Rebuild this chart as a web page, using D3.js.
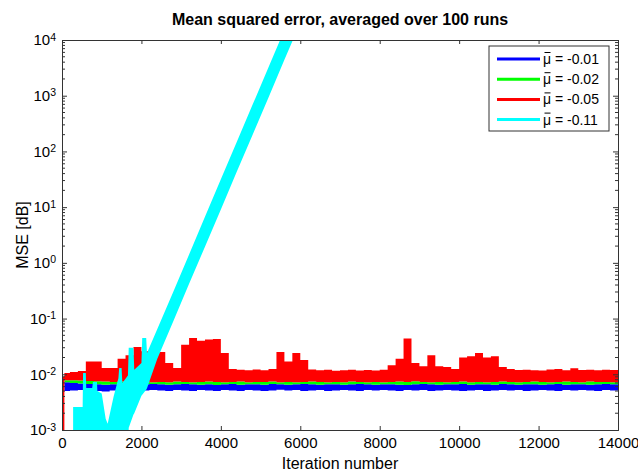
<!DOCTYPE html>
<html>
<head>
<meta charset="utf-8">
<script src="https://cdn.jsdelivr.net/npm/d3@7"></script>
<style>
  body { margin: 0; background: #fff; }
  text { font-family: "Liberation Sans", Arial, sans-serif; }
</style>
</head>
<body>
<script>
// iteration grid of the noisy bands (first bin is the start transient)
const iterations = [0, 60].concat(d3.range(200, 14001, 200));

// upper edge of the red band (mu = -0.05)
const redHi = [
  0.009, 0.0105,
  // 200 - 2000
  0.011, 0.0115, 0.017, 0.017, 0.013, 0.013, 0.019, 0.022, 0.031, 0.026,
  // 2200 - 4000
  0.022, 0.025, 0.016, 0.013, 0.034, 0.045, 0.04, 0.042, 0.043, 0.024,
  // 4200 - 6000
  0.0125, 0.012, 0.0118, 0.0122, 0.0118, 0.0125, 0.025, 0.017, 0.024, 0.018,
  // 6200 - 8000
  0.0122, 0.0118, 0.012, 0.0116, 0.0118, 0.0121, 0.0117, 0.0119, 0.0117, 0.012,
  // 8200 - 10000
  0.0145, 0.019, 0.044, 0.016, 0.014, 0.022, 0.014, 0.0135, 0.0125, 0.02,
  // 10200 - 12000
  0.021, 0.024, 0.02, 0.021, 0.0135, 0.0124, 0.0119, 0.0121, 0.0118, 0.0117,
  // 12200 - 14000
  0.0122, 0.0125, 0.0118, 0.0128, 0.0119, 0.0121, 0.0118, 0.012, 0.0119, 0.0119
];
// lower edge of the red band
const redLo = [
  0.0009, 0.0078,
  0.0078, 0.0077, 0.0076, 0.0075, 0.0074, 0.0073, 0.0074, 0.0072, 0.0073, 0.0074,
  0.0072, 0.0073, 0.0072, 0.0074, 0.0073, 0.0072, 0.0073, 0.0074, 0.0073, 0.0072,
  0.0073, 0.0074, 0.0072, 0.0073, 0.0073, 0.0074, 0.0072, 0.0073, 0.0072, 0.0073,
  0.0074, 0.0073, 0.0072, 0.0073, 0.0072, 0.0074, 0.0073, 0.0072, 0.0073, 0.0072,
  0.0073, 0.0074, 0.0073, 0.0075, 0.0073, 0.0072, 0.0073, 0.0072, 0.0073, 0.0074,
  0.0072, 0.0073, 0.0072, 0.0073, 0.0074, 0.0073, 0.0072, 0.0073, 0.0074, 0.0073,
  0.0072, 0.0073, 0.0074, 0.0073, 0.0072, 0.0074, 0.0073, 0.0073, 0.0072, 0.0073
];
// lower edge of the green band (mu = -0.02)
const greenLo = [
  0.0009, 0.0072,
  0.0070, 0.0068, 0.0067, 0.0066, 0.0065, 0.0066, 0.0067, 0.0066, 0.0065, 0.0066,
  0.0067, 0.0066, 0.0065, 0.0066, 0.0067, 0.0066, 0.0065, 0.0066, 0.0064, 0.0066,
  0.0067, 0.0065, 0.0066, 0.0066, 0.0065, 0.0067, 0.0066, 0.0065, 0.0066, 0.0067,
  0.0066, 0.0065, 0.0066, 0.0066, 0.0065, 0.0066, 0.0067, 0.0066, 0.0065, 0.0066,
  0.0066, 0.0065, 0.0064, 0.0066, 0.0067, 0.0066, 0.0065, 0.0066, 0.0066, 0.0067,
  0.0065, 0.0066, 0.0066, 0.0065, 0.0067, 0.0066, 0.0065, 0.0066, 0.0066, 0.0065,
  0.0066, 0.0067, 0.0065, 0.0066, 0.0066, 0.0065, 0.0066, 0.0067, 0.0066, 0.0066
];
// lower edge of the blue band (mu = -0.01)
const blueLo = [
  0.0009, 0.005,
  0.0051, 0.0052, 0.0051, 0.0050, 0.0049, 0.0051, 0.0052, 0.0050, 0.0052, 0.0051,
  0.0052, 0.0051, 0.0050, 0.0052, 0.0051, 0.0050, 0.0052, 0.0051, 0.0050, 0.0052,
  0.0051, 0.0050, 0.0052, 0.0051, 0.0050, 0.0051, 0.0053, 0.0051, 0.0052, 0.0050,
  0.0051, 0.0052, 0.0050, 0.0051, 0.0052, 0.0051, 0.0050, 0.0052, 0.0051, 0.0052,
  0.0051, 0.0050, 0.0052, 0.0051, 0.0052, 0.0050, 0.0051, 0.0052, 0.0051, 0.0050,
  0.0051, 0.0052, 0.0050, 0.0051, 0.0052, 0.0051, 0.0052, 0.0050, 0.0051, 0.0052,
  0.0051, 0.0050, 0.0052, 0.0051, 0.0052, 0.0051, 0.0050, 0.0052, 0.0051, 0.0052
];

// cyan band (mu = -0.11): diverges
const cyanIter = [280, 520, 530, 600, 610, 760, 780, 880, 890, 1000, 1100, 1150,
  1300, 1420, 1440, 1500, 1520, 1660, 1680, 1800, 1820, 2000, 2020, 2120, 2140,
  2400, 2800, 3200, 3600, 4000, 4400, 4800, 5200, 5600, 6000];
const cyanHi = [0.0026, 0.0026, 0.0105, 0.0105, 0.0057, 0.0057, 0.0073, 0.0073, 0.005, 0.0045, 0.0016, 0.0013,
  0.004, 0.0085, 0.013, 0.013, 0.007, 0.0095, 0.03, 0.03, 0.012, 0.016, 0.045, 0.045, 0.024,
  0.065, 0.3, 1.41, 6.7, 31.6, 148, 692, 3240, 15200, 72000];
const cyanLo = [0.0003, 0.0003, 0.0003, 0.0003, 0.0003, 0.0003, 0.0003, 0.0003, 0.0003, 0.0003, 0.0003, 0.0003,
  0.0003, 0.0003, 0.0003, 0.0003, 0.0003, 0.0003, 0.0011, 0.0019, 0.002, 0.0041, 0.0043, 0.0053, 0.0056,
  0.019, 0.089, 0.42, 1.95, 9.1, 43, 200, 930, 4400, 20400];

const legendLabels = ["-0.01", "-0.02", "-0.05", "-0.11"];
const colors = ["#0000ff", "#00ff00", "#ff0000", "#00ffff"];
const xTicks = [0, 2000, 4000, 6000, 8000, 10000, 12000, 14000];
const yDecades = [1e-3, 1e-2, 1e-1, 1e0, 1e1, 1e2, 1e3, 1e4];

const width = 638, height = 474;
const plotL = 62, plotR = 618, plotT = 40, plotB = 430;
const axisColor = "#333";

const svg = d3.select("body").append("svg")
    .attr("width", width)
    .attr("height", height);

const x = d3.scaleLinear().domain([0, 14000]).range([plotL, plotR]);
const y = d3.scaleLog().domain([1e-3, 1e4]).range([plotB, plotT]);

svg.append("clipPath").attr("id", "plot")
  .append("rect")
    .attr("x", plotL).attr("y", plotT)
    .attr("width", plotR - plotL).attr("height", plotB - plotT);

const plot = svg.append("g").attr("clip-path", "url(#plot)");

function band(xs, lo, hi, curve) {
    return d3.area()
        .x(i => x(xs[i]))
        .y0(i => y(lo[i]))
        .y1(i => y(hi[i]))
        .curve(curve)(d3.range(xs.length));
}

// blue, green, red draw on top of each other, cyan last
plot.append("path").attr("d", band(iterations, blueLo, greenLo, d3.curveStepAfter)).attr("fill", colors[0]);
plot.append("path").attr("d", band(iterations, greenLo, redLo, d3.curveStepAfter)).attr("fill", colors[1]);
plot.append("path").attr("d", band(iterations, redLo, redHi, d3.curveStepAfter)).attr("fill", colors[2]);
plot.append("path").attr("d", band(cyanIter, cyanLo, cyanHi, d3.curveLinear)).attr("fill", colors[3]);

// axes, ticks pointing inward
const gx = svg.append("g").attr("transform", `translate(0,${plotB})`)
    .call(d3.axisBottom(x).tickValues(xTicks).tickSize(-4).tickPadding(7).tickFormat(d3.format("d")));
const gxt = svg.append("g").attr("transform", `translate(0,${plotT})`)
    .call(d3.axisTop(x).tickValues(xTicks).tickSize(-4).tickFormat(""));
const gy = svg.append("g").attr("transform", `translate(${plotL},0)`)
    .call(d3.axisLeft(y).tickValues(yDecades).tickSize(-5).tickPadding(6).tickFormat(""));
const gyr = svg.append("g").attr("transform", `translate(${plotR},0)`)
    .call(d3.axisRight(y).tickValues(yDecades).tickSize(-5).tickFormat(""));

[gx, gxt, gy, gyr].forEach(g => {
    g.select(".domain").attr("stroke", axisColor);
    g.selectAll(".tick line").attr("stroke", axisColor);
});
gx.selectAll("text").attr("font-size", 15).attr("fill", "#000");

gy.selectAll(".tick text")
    .attr("font-size", 15).attr("fill", "#000")
    .each(function(d) {
        const t = d3.select(this);
        t.text("10");
        t.append("tspan")
            .attr("dy", "-0.45em")
            .attr("font-size", 10.5)
            .text(String(Math.round(Math.log10(d))));
    });

// minor log ticks on both sides
const minor = [];
yDecades.slice(0, -1).forEach(d => { for (let k = 2; k <= 9; k++) minor.push(d * k); });
svg.append("g").selectAll("line").data(minor).join("line")
    .attr("x1", plotL).attr("x2", plotL + 3)
    .attr("y1", d => y(d)).attr("y2", d => y(d))
    .attr("stroke", axisColor);
svg.append("g").selectAll("line").data(minor).join("line")
    .attr("x1", plotR).attr("x2", plotR - 3)
    .attr("y1", d => y(d)).attr("y2", d => y(d))
    .attr("stroke", axisColor);

// titles
svg.append("text")
    .attr("x", (plotL + plotR) / 2).attr("y", 25)
    .attr("text-anchor", "middle")
    .attr("font-size", 16).attr("font-weight", "bold")
    .text("Mean squared error, averaged over 100 runs");

svg.append("text")
    .attr("x", (plotL + plotR) / 2).attr("y", 469)
    .attr("text-anchor", "middle")
    .attr("font-size", 16)
    .text("Iteration number");

svg.append("text")
    .attr("transform", `translate(28,${(plotT + plotB) / 2}) rotate(-90)`)
    .attr("text-anchor", "middle")
    .attr("font-size", 16)
    .text("MSE [dB]");

// legend
const legend = svg.append("g").attr("transform", "translate(489,46)");
legend.append("rect")
    .attr("width", 120).attr("height", 85)
    .attr("fill", "#fff").attr("stroke", axisColor);
const items = legend.selectAll("g.item").data(legendLabels).join("g")
    .attr("class", "item")
    .attr("transform", (d, i) => `translate(0,${13 + i * 20.2})`);
items.append("line")
    .attr("x1", 8).attr("x2", 51)
    .attr("stroke", (d, i) => colors[i])
    .attr("stroke-width", 3);
items.append("text")
    .attr("x", 54).attr("y", 5)
    .attr("font-size", 14)
    .text(d => "\u03bc = " + d);
// bar over the mu
items.append("line")
    .attr("x1", 55.5).attr("x2", 61.5)
    .attr("y1", -6.5).attr("y2", -6.5)
    .attr("stroke", "#000").attr("stroke-width", 1);
</script>
</body>
</html>
